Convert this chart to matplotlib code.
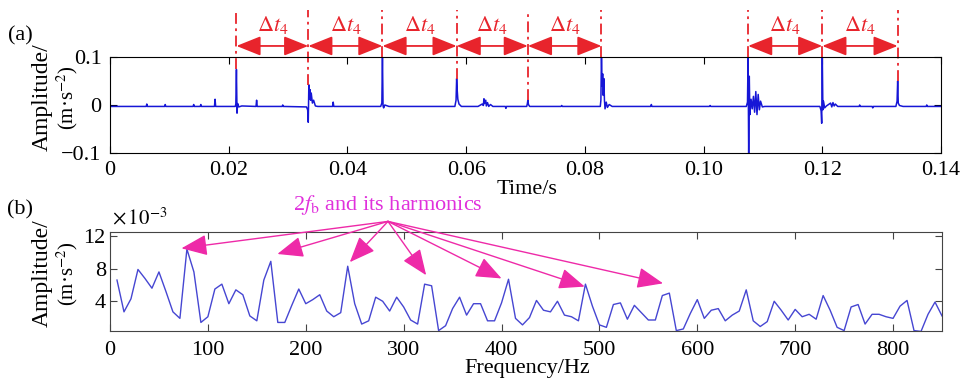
import numpy as np
import matplotlib
matplotlib.use('Agg')
import matplotlib.pyplot as plt

plt.rcParams['font.family'] = ['Liberation Serif', 'DejaVu Serif']
plt.rcParams['mathtext.fontset'] = 'stix'

# (a) time signal, vertices
time_s = [0.0000, 0.0040, 0.0061, 0.0062, 0.0063, 0.0092, 0.0093, 0.0094, 0.0130, 0.0140,
          0.0141, 0.0142, 0.0152, 0.0153, 0.0154, 0.0176, 0.0177, 0.0178,
          0.0211, 0.0212, 0.0213, 0.0214, 0.0215, 0.0217, 0.0222, 0.0246, 0.0247, 0.0248,
          0.0290, 0.0291, 0.0292,
          0.0331, 0.0333, 0.0334, 0.0335, 0.0336, 0.0337, 0.0338, 0.0339, 0.0341, 0.0343,
          0.0346, 0.0350, 0.0375, 0.0376, 0.0377,
          0.0456, 0.0458, 0.0459, 0.0460, 0.0461, 0.0463, 0.0470, 0.0520,
          0.0581, 0.0583, 0.0584, 0.0585, 0.0586, 0.0588, 0.0592, 0.0620,
          0.0627, 0.0629, 0.0630, 0.0631, 0.0633, 0.0634, 0.0636, 0.0638, 0.0641, 0.0645,
          0.0666, 0.0667, 0.0668, 0.0702, 0.0703, 0.0704, 0.0705, 0.0707, 0.0760, 0.0761, 0.0762,
          0.0826, 0.0827, 0.0828, 0.0829, 0.0830, 0.0831, 0.0832, 0.0833, 0.0834, 0.0836,
          0.0838, 0.0841, 0.0846, 0.0911, 0.0912, 0.0913, 0.1010, 0.1011, 0.1012,
          0.1072, 0.1074, 0.1075, 0.1076, 0.1077, 0.1078, 0.1080, 0.1082, 0.1084, 0.1086,
          0.1088, 0.1090, 0.1092, 0.1094, 0.1096, 0.1099, 0.1103,
          0.1196, 0.1198, 0.1199, 0.1200, 0.1201, 0.1202, 0.1204, 0.1207, 0.1214, 0.1216,
          0.1218, 0.1220, 0.1222, 0.1226, 0.1262, 0.1263, 0.1264, 0.1284, 0.1285, 0.1286,
          0.1324, 0.1326, 0.1327, 0.1328, 0.1330, 0.1336, 0.1375, 0.1376, 0.1377, 0.1400]
accel = [-0.003, -0.003, -0.003, 0.002, -0.003, -0.003, 0.001, -0.003, -0.003, -0.003,
         0.001, -0.003, -0.003, 0.001, -0.003, -0.003, 0.012, -0.003,
         -0.003, 0.002, 0.074, -0.017, 0.003, -0.004, -0.002, -0.003, 0.010, -0.003,
         -0.003, 0.000, -0.003,
         -0.004, -0.010, -0.036, 0.042, 0.012, 0.032, 0.010, 0.025, 0.004, 0.010,
         -0.002, -0.003, -0.003, 0.006, -0.003,
         -0.003, 0.004, 0.105, -0.002, -0.006, 0.000, -0.003, -0.003,
         -0.003, 0.010, 0.055, 0.030, 0.012, 0.002, -0.003, -0.003,
         0.002, -0.001, 0.013, 0.003, 0.010, -0.002, 0.005, -0.003, 0.001, -0.003,
         -0.003, -0.007, -0.003, -0.003, 0.002, 0.010, 0.001, -0.003, -0.003, -0.001, -0.003,
         -0.003, 0.010, 0.105, 0.040, 0.065, 0.020, 0.055, 0.010, -0.008, 0.006,
         -0.005, 0.001, -0.003, -0.003, 0.001, -0.003, -0.003, -0.001, -0.003,
         -0.003, 0.006, 0.105, -0.105, 0.060, -0.020, 0.012, -0.008, 0.018, -0.015,
         0.028, -0.020, 0.022, -0.010, 0.008, -0.004, -0.003,
         -0.003, -0.012, -0.038, 0.105, -0.010, 0.008, -0.006, -0.002, 0.004, -0.004,
         0.005, -0.002, 0.002, -0.003, -0.003, 0.000, -0.003, -0.003, -0.006, -0.003,
         -0.003, 0.008, 0.050, 0.004, -0.001, -0.003, -0.003, 0.000, -0.003, -0.003]

impact_times = [0.0213, 0.0334, 0.0459, 0.0584, 0.0704, 0.0828, 0.1075, 0.1200, 0.1327]
interval_pairs = [(0, 1), (1, 2), (2, 3), (3, 4), (4, 5), (6, 7), (7, 8)]

time_ticks = [0, 0.02, 0.04, 0.06, 0.08, 0.10, 0.12, 0.14]
time_tick_labels = ['0', '0.02', '0.04', '0.06', '0.08', '0.10', '0.12', '0.14']

# (b) envelope spectrum, x 1e-3 m/s^2, bins of 1/0.14 Hz
freq_step = 1 / 0.14
spectrum = [6.6, 2.7, 4.3, 7.9, 6.8, 5.6, 7.6, 5.2, 2.7, 1.9,
            10.4, 7.6, 1.4, 2.1, 5.5, 6.1, 3.7, 5.4, 4.8, 2.2,
            1.6, 6.6, 8.9, 1.4, 1.4, 3.5, 5.5, 3.7, 4.2, 4.8,
            2.8, 2.1, 2.6, 8.3, 3.7, 1.2, 1.6, 4.5, 4.0, 2.8,
            4.5, 3.3, 1.7, 1.2, 6.1, 5.9, 0.4, 1.0, 3.1, 4.5,
            2.3, 3.7, 3.7, 1.6, 1.6, 3.8, 6.7, 1.9, 1.1, 2.0,
            4.1, 2.9, 2.7, 4.0, 2.3, 2.1, 1.6, 6.1, 3.4, 1.1,
            0.8, 3.6, 3.8, 1.8, 3.5, 2.6, 1.7, 1.7, 4.7, 5.0,
            0.4, 0.6, 2.5, 4.2, 1.9, 2.9, 3.1, 1.6, 2.3, 2.8,
            5.4, 1.6, 0.9, 1.5, 4.0, 2.9, 1.7, 3.0, 2.1, 2.4,
            1.8, 4.7, 2.9, 0.8, 0.4, 3.3, 3.6, 1.2, 2.4, 2.4,
            2.1, 1.9, 3.4, 4.1, 0.4, 0.3, 2.4, 3.9, 2.2]
freq_hz = freq_step * np.arange(1, len(spectrum) + 1)

harm_tip_f = [73, 171, 245, 323, 400, 485, 565]
harm_tip_a = [10.5, 9.8, 8.8, 7.2, 6.8, 5.8, 6.2]
harm_src = (284, 13.8)

red = '#e8242c'
pink = '#ee2aa8'

fig = plt.figure(figsize=(9.63, 3.82), dpi=100)
ax1 = fig.add_axes([110 / 963, 1 - 153 / 382, 831 / 963, 96 / 382])
ax2 = fig.add_axes([110 / 963, 1 - 331 / 382, 832 / 963, 99 / 382])


def amp_label(y_px):
    fig.text(42 / 963, 1 - y_px / 382, 'Amplitude/', rotation=90,
             ha='center', va='center', fontsize=17)
    fig.text(67 / 963, 1 - (y_px + 1) / 382, '(m\u00b7s$^{-2}$)', rotation=90,
             ha='center', va='center', fontsize=15)


# ---- (a)
ax1.plot(time_s, accel, color='#1616d6', lw=1.1)
ax1.set_xlim(0, 0.14)
ax1.set_ylim(-0.1, 0.1)
ax1.set_xticks(time_ticks)
ax1.set_xticklabels(time_tick_labels)
ax1.set_yticks([-0.1, 0, 0.1])
ax1.set_yticklabels(['\u22120.1', '0', '0.1'])
ax1.tick_params(direction='in', top=True, right=True, length=5, labelsize=16)
ax1.tick_params(axis='x', pad=6)
ax1.tick_params(axis='y', pad=6)

acc = np.array(accel)
ts = np.array(time_s)
for t in impact_times:
    near = acc[np.abs(ts - t) < 0.00025]
    lo = min(near.max(), 0.1)
    ax1.plot([t, t], [lo, 0.198], color=red, lw=1.3, ls=(0, (6, 2.5, 1.5, 2.5)),
             clip_on=False)

for i, j in interval_pairs:
    a, b = impact_times[i], impact_times[j]
    ax1.annotate('', xy=(b, 0.123), xytext=(a, 0.123),
                 arrowprops=dict(arrowstyle='<|-|>,head_length=1.5,head_width=0.6',
                                 color=red, lw=1.3, shrinkA=0, shrinkB=0,
                                 mutation_scale=10),
                 annotation_clip=False)
    ax1.text((a + b) / 2, 0.167, r'$\Delta t_4$', color=red, ha='center', va='center',
             fontsize=16)

fig.text(527 / 963, 1 - 190 / 382, 'Time/s', ha='center', va='center', fontsize=16)
amp_label(97)
fig.text(20 / 963, 1 - 36 / 382, '(a)', ha='center', va='center', fontsize=16)

# ---- (b)
ax2.plot(freq_hz, spectrum, color='#4646d2', lw=1.0)
ax2.set_xlim(0, 850)
ax2.set_ylim(0.35, 12.5)
ax2.set_xticks(range(0, 900, 100))
ax2.set_yticks([4, 8, 12])
ax2.tick_params(direction='in', top=True, right=True, length=5, labelsize=16,
                color='#444444')
ax2.tick_params(axis='x', pad=7)
ax2.tick_params(axis='y', pad=3)
for s in ax2.spines.values():
    s.set_color('#444444')

for tf, ta in zip(harm_tip_f, harm_tip_a):
    ax2.annotate('', xy=(tf, ta), xytext=harm_src,
                 arrowprops=dict(arrowstyle='-|>,head_length=1.6,head_width=0.65',
                                 color=pink, lw=1.0, shrinkA=0, shrinkB=0,
                                 mutation_scale=10),
                 annotation_clip=False)
ax2.text(284, 15.8, r'2$f_{\mathrm{b}}$ and its harmonics', color='#e030dc',
         ha='center', va='center', fontsize=16, clip_on=False)

fig.text(112 / 963, 1 - 219 / 382, r'$\times\,10^{-3}$', ha='left', va='center', fontsize=15)
fig.text(527 / 963, 1 - 369 / 382, 'Frequency/Hz', ha='center', va='center', fontsize=16)
amp_label(273)
fig.text(20 / 963, 1 - 210 / 382, '(b)', ha='center', va='center', fontsize=16)

fig.savefig('out.png', dpi=100)
